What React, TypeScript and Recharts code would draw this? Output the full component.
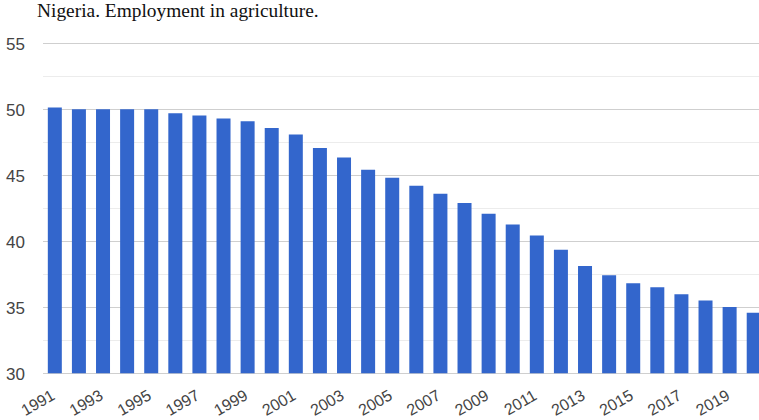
import React from "react";
import { BarChart, Bar, XAxis, YAxis, CartesianGrid } from "recharts";

const years = [
  "1991","1992","1993","1994","1995","1996","1997","1998","1999","2000",
  "2001","2002","2003","2004","2005","2006","2007","2008","2009","2010",
  "2011","2012","2013","2014","2015","2016","2017","2018","2019","2020",
];
const employment = [
  50.15, 50.02, 50.02, 50.02, 50.02, 49.72, 49.54, 49.31, 49.11, 48.6,
  48.1, 47.08, 46.37, 45.43, 44.83, 44.22, 43.62, 42.91, 42.11, 41.28,
  40.45, 39.37, 38.14, 37.44, 36.84, 36.54, 36.01, 35.53, 35.03, 34.6,
];
const majorTicks = [30, 35, 40, 45, 50, 55];
const minorTicks = [32.5, 37.5, 42.5, 47.5, 52.5];
const title = "Nigeria. Employment in agriculture.";

const data = years.map((y, i) => ({ year: y, value: employment[i] }));

const YTick = (props: any) => {
  const { y, payload } = props;
  return (
    <text x={6} y={y} dy="0.36em" textAnchor="start" fill="#444" fontSize={17} fontFamily="Arial, 'Liberation Sans', sans-serif">
      {payload.value}
    </text>
  );
};

const XTick = (props: any) => {
  const { x, y, payload } = props;
  const ty = y + 17;
  return (
    <text x={x + 1} y={ty} textAnchor="end" transform={`rotate(-30, ${x + 1}, ${ty})`} fill="#444" fontSize={16} fontFamily="Arial, 'Liberation Sans', sans-serif">
      {payload.value}
    </text>
  );
};

export default function App() {
  return (
    <div style={{ position: "absolute", left: 0, top: 0, width: 759, height: 420, overflow: "hidden", background: "#fff" }}>
      <div style={{ position: "absolute", left: 37, top: 0, fontFamily: "'Liberation Serif', 'Times New Roman', serif", fontSize: 19.4, color: "#111", whiteSpace: "nowrap" }}>
        {title}
      </div>
      <div style={{ position: "absolute", left: 0, top: 0 }}>
        <BarChart width={766} height={420} data={data} margin={{ top: 43.5, right: 0, bottom: 6.5, left: 0 }} barCategoryGap="20%">
          <CartesianGrid vertical={false} horizontalValues={minorTicks} stroke="#ececec" strokeWidth={1} />
          <CartesianGrid vertical={false} horizontalValues={majorTicks} stroke="#cfcfcf" strokeWidth={1} />
          <XAxis dataKey="year" interval={1} tick={<XTick />} tickLine={false} axisLine={false} height={40} />
          <YAxis domain={[30, 55]} ticks={majorTicks} tick={<YTick />} tickLine={false} axisLine={false} width={43} allowDataOverflow />
          <Bar dataKey="value" fill="#3366cc" isAnimationActive={false} />
        </BarChart>
      </div>
    </div>
  );
}
